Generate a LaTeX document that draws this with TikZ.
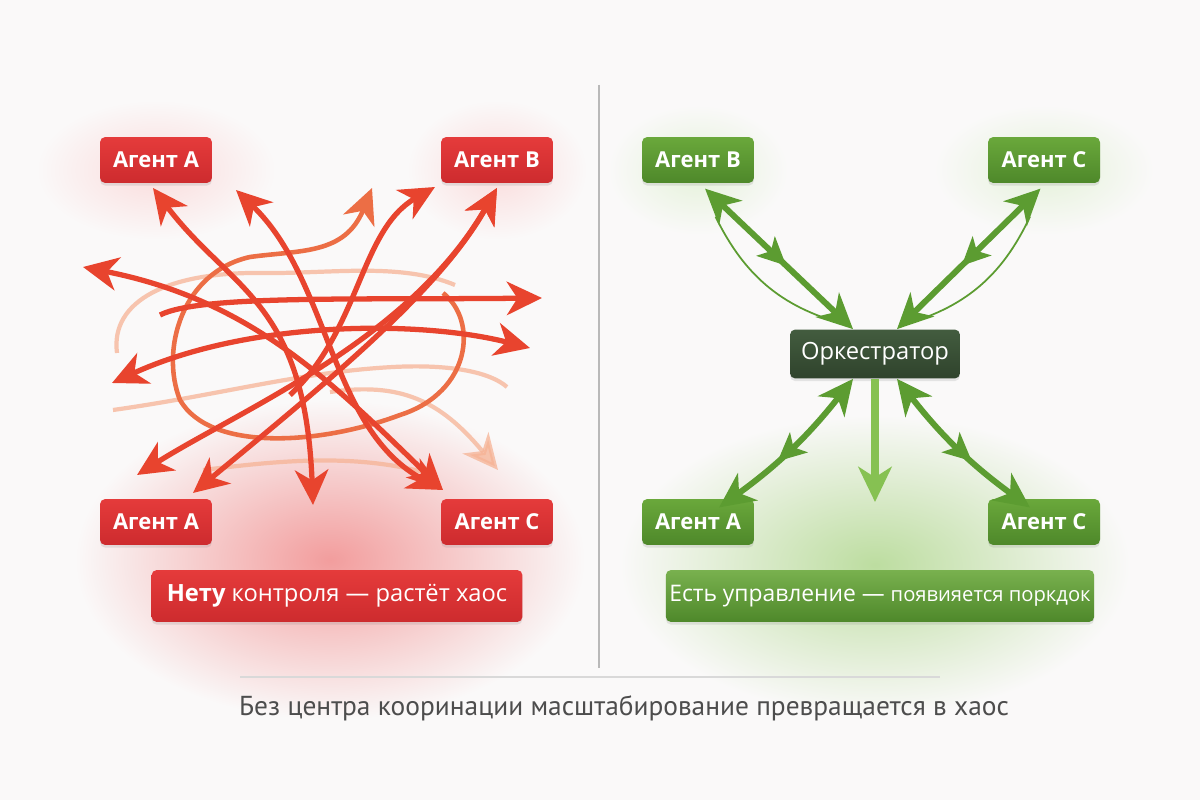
\documentclass[tikz,border=0pt]{standalone}
\usepackage{fontspec}
\setmainfont{Open Sans}
\newfontfamily\notefont{PT Sans}
\usetikzlibrary{arrows.meta,positioning,shadows,decorations.markings}

\definecolor{bgpaper}{HTML}{FAF9F9}
\definecolor{chaosred}{HTML}{E8442E}
\definecolor{chaosmid}{HTML}{EC6E45}
\definecolor{chaoslight}{HTML}{F6B395}
\definecolor{boxred}{HTML}{E53B3B}
\definecolor{boxredd}{HTML}{CD2B2E}
\definecolor{boxgreen}{HTML}{6AA83B}
\definecolor{boxgreend}{HTML}{4E882A}
\definecolor{orchdark}{HTML}{435C3F}
\definecolor{orchdarkd}{HTML}{2F432C}
\definecolor{flowgreen}{HTML}{5C9C31}
\definecolor{flowlight}{HTML}{86C152}
\definecolor{notegray}{HTML}{4D4D4D}

\tikzset{
  agent/.style={rounded corners=3pt, minimum width=2.24cm, minimum height=0.92cm,
    inner xsep=2pt, text=white, font=\fontsize{12.5}{14}\selectfont\bfseries,
    drop shadow={opacity=0.18, shadow xshift=0pt, shadow yshift=-1.5pt}},
  redagent/.style={agent, top color=boxred, bottom color=boxredd},
  greenagent/.style={agent, top color=boxgreen, bottom color=boxgreend},
  orchbox/.style={agent, top color=orchdark, bottom color=orchdarkd,
    minimum width=3.4cm, minimum height=0.98cm, font=\fontsize{13.5}{15}\selectfont},
  verdict/.style={rounded corners=3pt, minimum height=1.04cm, inner xsep=2pt, text=white,
    drop shadow={opacity=0.18, shadow xshift=0pt, shadow yshift=-1.5pt}},
  chaos/.style={draw=chaosred, line width=3pt},
  faint/.style={draw=chaoslight, line width=2.4pt, opacity=0.75},
  gflow/.style={draw=flowgreen, line width=3.4pt},
  gthin/.style={draw=flowgreen, line width=1pt},
  mid arrow/.style={postaction={decorate, decoration={markings,
    mark=at position #1 with {\arrow{Stealth[length=16pt,width=15pt,inset=4pt]}}}}}
}

\begin{document}
\begin{tikzpicture}[x=0.02cm, y=-0.02cm, >={Stealth[length=20pt,width=19pt,inset=6pt]}]
  \fill[bgpaper] (0,0) rectangle (1200,800);
  \useasboundingbox (0,0) rectangle (1200,800);

  % soft glows
  \shade[inner color=boxred!50, outer color=bgpaper] (330,560) ellipse (255 and 160);
  \shade[inner color=boxred!18, outer color=bgpaper] (156,170) ellipse (120 and 70);
  \shade[inner color=boxred!18, outer color=bgpaper] (497,170) ellipse (90 and 70);
  \shade[inner color=flowlight!55, outer color=bgpaper] (875,565) ellipse (255 and 150);
  \shade[inner color=flowlight!22, outer color=bgpaper] (698,170) ellipse (90 and 65);
  \shade[inner color=flowlight!22, outer color=bgpaper] (1044,170) ellipse (110 and 65);

  % divider
  \draw[gray!55, line width=1.2pt] (599,85) -- (599,668);
  \draw[gray!30, line width=0.9pt] (240,677) -- (940,677);

  % left: agents without a centre
  \node[redagent] (la1) at (156,160) {Агент А};
  \node[redagent] (lb) at (497,160) {Агент В};
  \node[redagent] (la2) at (156,522) {Агент А};
  \node[redagent] (lc) at (497,522) {Агент С};

  % faint tangles
  \draw[faint] (113,410) .. controls (220,395) and (300,372) .. (393,367) .. controls (450,364) and (490,372) .. (507,387);
  \draw[faint] (117,353) .. controls (110,300) and (170,272) .. (260,273) .. controls (330,274) and (400,262) .. (455,285);
  \draw[faint] (203,470) .. controls (270,462) and (350,452) .. (427,473);
  \draw[faint, ->] (330,392) .. controls (400,382) and (440,400) .. (498,470);

  % chaotic arrows
  \draw[draw=chaosmid, line width=2.6pt, ->] (443,293) .. controls (478,320) and (472,392) .. (400,415)
    .. controls (320,445) and (210,452) .. (180,400) .. controls (160,350) and (182,272) .. (250,257)
    .. controls (300,250) and (345,255) .. (372,188);
  \draw[chaos, <->] (153,188) .. controls (230,290) and (305,300) .. (313,505);
  \draw[chaos, <->] (236,190) .. controls (330,280) and (330,430) .. (443,490);
  \draw[chaos, ->] (290,395) .. controls (360,330) and (360,230) .. (435,187);
  \draw[chaos, <->] (193,493) .. controls (330,380) and (440,290) .. (497,188);
  \draw[chaos, <->] (137,475) .. controls (240,410) and (410,340) .. (497,188);
  \draw[chaos, <->] (83,267) .. controls (250,300) and (330,380) .. (443,490);
  \draw[chaos, ->] (160,315) .. controls (200,295) and (350,300) .. (542,298);
  \draw[chaos, <->] (112,383) .. controls (250,320) and (420,320) .. (530,348);

  \node[verdict, top color=boxred, bottom color=boxredd, minimum width=7.42cm] (lverdict) at (337,596)
    {\fontsize{13.5}{15}\selectfont\textbf{Нету} контроля — растёт хаос};

  % right: orchestrated agents
  \node[greenagent] (rb) at (698,160) {Агент В};
  \node[greenagent] (rc) at (1044,160) {Агент С};
  \node[orchbox] (orch) at (875,354) {Оркестратор};
  \node[greenagent] (ra) at (698,522) {Агент А};
  \node[greenagent] (rc2) at (1044,522) {Агент С};
  \coordinate (orchdown) at (875,502);

  \draw[gflow, <->, mid arrow=0.55] ([xshift=4pt, yshift=-3pt]rb.south) -- ([xshift=-12.5pt]orch.north);
  \draw[gthin] ([xshift=10pt, yshift=-19pt]rb.south) to[bend right=25] ([xshift=-14pt, yshift=2pt]orch.north);
  \draw[gflow, <->, mid arrow=0.55] ([xshift=-2pt, yshift=-3pt]rc.south) -- ([xshift=12.5pt]orch.north);
  \draw[gthin] ([xshift=-8pt, yshift=-19pt]rc.south) to[bend left=25] ([xshift=14pt, yshift=2pt]orch.north);
  \draw[gflow, <->, mid arrow=0.6] ([xshift=-12.5pt]orch.south) to[bend left=8] ([xshift=12pt, yshift=-5pt]ra.north);
  \draw[draw=flowlight, line width=4.5pt, ->] (orch.south) -- (orchdown);
  \draw[gflow, <->, mid arrow=0.6] ([xshift=12.5pt]orch.south) to[bend right=8] ([xshift=-8pt, yshift=-5pt]rc2.north);

  \node[verdict, top color=boxgreen!90!white, bottom color=boxgreend, minimum width=8.5cm] (rverdict) at (880,596)
    {\fontsize{13}{15}\selectfont Есть управление — \fontsize{11.5}{14}\selectfont появияется поркдок};

  \node[text=notegray, font=\notefont\fontsize{15.6}{17}\selectfont] (note) at (624,708)
    {Без центра кооринации масштабирование превращается в хаос};
\end{tikzpicture}
\end{document}
